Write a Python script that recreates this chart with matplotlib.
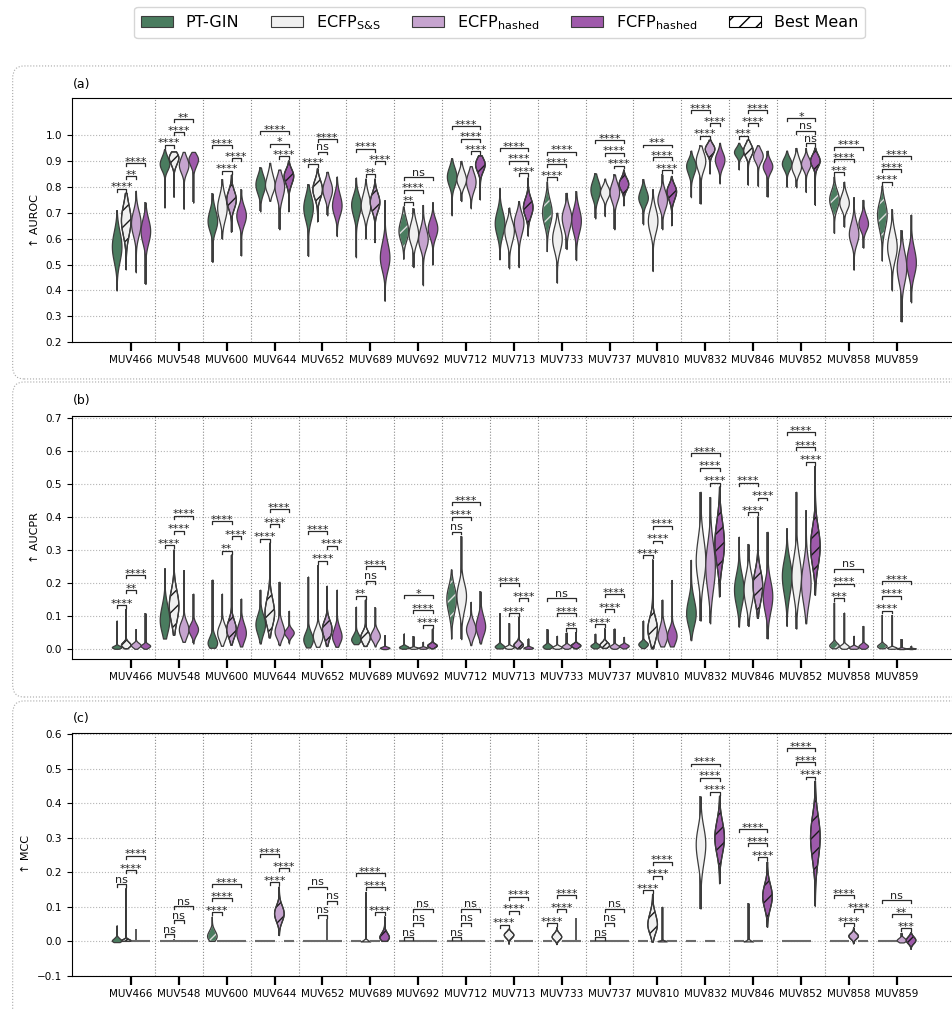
import numpy as np
import matplotlib
matplotlib.use("Agg")
import matplotlib.pyplot as plt
from matplotlib import cbook, mlab
from matplotlib.patches import Patch, PathPatch, FancyBboxPatch

# targets and models
targets = ["MUV466", "MUV548", "MUV600", "MUV644", "MUV652", "MUV689", "MUV692",
           "MUV712", "MUV713", "MUV733", "MUV737", "MUV810", "MUV832", "MUV846",
           "MUV852", "MUV858", "MUV859"]
models = ["PT-GIN", r"ECFP$_{\mathrm{S&S}}$", r"ECFP$_{\mathrm{hashed}}$", r"FCFP$_{\mathrm{hashed}}$"]
colors = ["#4a7c5f", "#f0f0f0", "#c6a4cf", "#9f5aab"]

# per violin: (min, q1, median, q3, max)
auroc_ptgin = [(0.40, 0.52, 0.57, 0.62, 0.71), (0.72, 0.87, 0.89, 0.915, 0.945), (0.51, 0.64, 0.67, 0.71, 0.775),
               (0.705, 0.78, 0.81, 0.84, 0.875), (0.533, 0.68, 0.72, 0.76, 0.81), (0.528, 0.69, 0.73, 0.76, 0.836),
               (0.52, 0.60, 0.63, 0.67, 0.723), (0.69, 0.81, 0.84, 0.87, 0.91), (0.52, 0.62, 0.66, 0.70, 0.795),
               (0.55, 0.66, 0.70, 0.74, 0.82), (0.678, 0.76, 0.79, 0.82, 0.852), (0.655, 0.74, 0.76, 0.79, 0.83),
               (0.76, 0.85, 0.88, 0.90, 0.94), (0.867, 0.92, 0.935, 0.95, 0.97), (0.80, 0.87, 0.89, 0.91, 0.94),
               (0.62, 0.72, 0.75, 0.78, 0.84), (0.513, 0.64, 0.69, 0.73, 0.803)]
auroc_ecfp_ss = [(0.48, 0.62, 0.67, 0.72, 0.775), (0.76, 0.885, 0.91, 0.925, 0.935), (0.60, 0.68, 0.72, 0.76, 0.83),
                 (0.746, 0.79, 0.81, 0.85, 0.893), (0.665, 0.76, 0.79, 0.82, 0.87), (0.60, 0.70, 0.73, 0.77, 0.832),
                 (0.49, 0.59, 0.62, 0.66, 0.717), (0.745, 0.81, 0.83, 0.86, 0.90), (0.485, 0.59, 0.63, 0.66, 0.72),
                 (0.43, 0.56, 0.60, 0.64, 0.70), (0.687, 0.76, 0.78, 0.80, 0.832), (0.475, 0.63, 0.67, 0.71, 0.79),
                 (0.735, 0.87, 0.90, 0.93, 0.96), (0.807, 0.92, 0.94, 0.96, 0.98), (0.798, 0.86, 0.88, 0.91, 0.95),
                 (0.646, 0.72, 0.74, 0.77, 0.82), (0.40, 0.53, 0.57, 0.62, 0.713)]
auroc_ecfp_hashed = [(0.47, 0.62, 0.66, 0.70, 0.785), (0.715, 0.86, 0.885, 0.91, 0.935), (0.625, 0.72, 0.75, 0.78, 0.845),
                     (0.636, 0.76, 0.80, 0.83, 0.867), (0.69, 0.76, 0.79, 0.82, 0.858), (0.585, 0.71, 0.74, 0.77, 0.83),
                     (0.42, 0.57, 0.60, 0.64, 0.73), (0.717, 0.79, 0.82, 0.85, 0.88), (0.49, 0.62, 0.66, 0.69, 0.745),
                     (0.56, 0.64, 0.68, 0.71, 0.777), (0.636, 0.75, 0.78, 0.81, 0.848), (0.636, 0.72, 0.75, 0.78, 0.848),
                     (0.85, 0.925, 0.945, 0.96, 0.98), (0.803, 0.90, 0.92, 0.94, 0.96), (0.78, 0.87, 0.89, 0.91, 0.95),
                     (0.48, 0.59, 0.62, 0.66, 0.76), (0.28, 0.44, 0.49, 0.54, 0.633)]
auroc_fcfp_hashed = [(0.425, 0.59, 0.63, 0.67, 0.74), (0.74, 0.88, 0.905, 0.92, 0.935), (0.535, 0.66, 0.69, 0.72, 0.79),
                     (0.704, 0.81, 0.84, 0.86, 0.90), (0.61, 0.70, 0.73, 0.77, 0.84), (0.36, 0.49, 0.53, 0.58, 0.749),
                     (0.50, 0.61, 0.64, 0.67, 0.74), (0.75, 0.86, 0.885, 0.905, 0.92), (0.61, 0.69, 0.72, 0.75, 0.835),
                     (0.517, 0.63, 0.67, 0.71, 0.783), (0.727, 0.79, 0.81, 0.83, 0.865), (0.65, 0.75, 0.78, 0.80, 0.84),
                     (0.813, 0.88, 0.905, 0.93, 0.97), (0.762, 0.86, 0.88, 0.90, 0.94), (0.73, 0.88, 0.90, 0.92, 0.95),
                     (0.565, 0.64, 0.66, 0.69, 0.75), (0.354, 0.47, 0.51, 0.56, 0.693)]

aucpr_ptgin = [(0.001, 0.003, 0.006, 0.010, 0.086), (0.032, 0.06, 0.09, 0.13, 0.244), (0.004, 0.01, 0.02, 0.04, 0.21),
               (0.017, 0.05, 0.075, 0.10, 0.18), (0.005, 0.015, 0.03, 0.05, 0.219), (0.015, 0.022, 0.03, 0.045, 0.128),
               (0.001, 0.003, 0.006, 0.010, 0.047), (0.03, 0.11, 0.15, 0.18, 0.24), (0.002, 0.004, 0.008, 0.014, 0.108),
               (0.001, 0.004, 0.008, 0.014, 0.06), (0.002, 0.005, 0.010, 0.015, 0.047), (0.003, 0.008, 0.015, 0.022, 0.086),
               (0.027, 0.08, 0.11, 0.15, 0.27), (0.068, 0.14, 0.18, 0.22, 0.34), (0.07, 0.17, 0.22, 0.26, 0.365),
               (0.001, 0.005, 0.010, 0.018, 0.14), (0.001, 0.004, 0.008, 0.014, 0.103)]
aucpr_ecfp_ss = [(0.001, 0.006, 0.012, 0.02, 0.12), (0.042, 0.09, 0.13, 0.17, 0.30), (0.01, 0.03, 0.05, 0.07, 0.168),
                 (0.034, 0.08, 0.11, 0.15, 0.32), (0.007, 0.02, 0.04, 0.06, 0.254), (0.008, 0.02, 0.035, 0.05, 0.148),
                 (0.001, 0.002, 0.004, 0.006, 0.039), (0.03, 0.12, 0.16, 0.19, 0.342), (0.001, 0.003, 0.006, 0.010, 0.078),
                 (0.001, 0.003, 0.006, 0.010, 0.04), (0.002, 0.006, 0.012, 0.02, 0.062), (0.001, 0.03, 0.06, 0.09, 0.27),
                 (0.086, 0.22, 0.27, 0.33, 0.476), (0.07, 0.14, 0.18, 0.22, 0.318), (0.062, 0.17, 0.22, 0.27, 0.476),
                 (0.001, 0.004, 0.008, 0.014, 0.11), (0.001, 0.002, 0.004, 0.007, 0.103)]
aucpr_ecfp_hashed = [(0.001, 0.006, 0.012, 0.018, 0.06), (0.022, 0.04, 0.06, 0.08, 0.239), (0.012, 0.04, 0.06, 0.085, 0.284),
                     (0.012, 0.04, 0.055, 0.08, 0.204), (0.008, 0.035, 0.06, 0.08, 0.19), (0.008, 0.028, 0.04, 0.055, 0.126),
                     (0.001, 0.002, 0.004, 0.006, 0.022), (0.012, 0.04, 0.06, 0.08, 0.143), (0.001, 0.006, 0.012, 0.02, 0.096),
                     (0.001, 0.004, 0.008, 0.013, 0.05), (0.001, 0.004, 0.008, 0.013, 0.062), (0.008, 0.025, 0.04, 0.07, 0.15),
                     (0.078, 0.19, 0.25, 0.31, 0.46), (0.093, 0.15, 0.19, 0.23, 0.40), (0.078, 0.15, 0.20, 0.25, 0.42),
                     (0.001, 0.002, 0.005, 0.009, 0.04), (0.0, 0.001, 0.002, 0.004, 0.03)]
aucpr_fcfp_hashed = [(0.001, 0.005, 0.01, 0.015, 0.108), (0.017, 0.045, 0.06, 0.075, 0.168), (0.008, 0.03, 0.05, 0.075, 0.153),
                     (0.017, 0.04, 0.05, 0.06, 0.116), (0.007, 0.025, 0.04, 0.065, 0.18), (0.0, 0.002, 0.004, 0.007, 0.042),
                     (0.001, 0.005, 0.010, 0.015, 0.06), (0.017, 0.05, 0.07, 0.10, 0.175), (0.001, 0.002, 0.004, 0.007, 0.032),
                     (0.001, 0.005, 0.010, 0.015, 0.05), (0.002, 0.005, 0.010, 0.014, 0.037), (0.008, 0.02, 0.04, 0.06, 0.209),
                     (0.158, 0.27, 0.32, 0.38, 0.49), (0.032, 0.12, 0.16, 0.20, 0.355), (0.163, 0.26, 0.31, 0.36, 0.553),
                     (0.001, 0.004, 0.009, 0.015, 0.07), (0.0, 0.001, 0.002, 0.003, 0.01)]

Z = (0.0, 0.0, 0.0, 0.0, 0.0)
mcc_ptgin = [(-0.002, 0.0, 0.003, 0.01, 0.046), Z, (0.0, 0.005, 0.015, 0.03, 0.071), Z, Z, Z, Z, Z, Z, Z, Z, Z,
             Z, Z, Z, Z, Z]
mcc_ecfp_ss = [(0.0, 0.0, 0.002, 0.006, 0.153), (0.0, 0.0, 0.0, 0.0, 0.008), Z, Z, Z, (0.0, 0.0, 0.0, 0.005, 0.143),
               Z, Z, (-0.008, 0.01, 0.018, 0.025, 0.035), (-0.009, 0.006, 0.013, 0.022, 0.04), Z,
               (-0.002, 0.03, 0.05, 0.08, 0.136), (0.095, 0.23, 0.28, 0.32, 0.42), (0.0, 0.0, 0.0, 0.004, 0.11),
               Z, Z, Z]
mcc_ecfp_hashed = [(0.0, 0.0, 0.0, 0.0, 0.035), Z, Z, (0.017, 0.06, 0.08, 0.10, 0.158), (0.0, 0.0, 0.0, 0.0, 0.064),
                   Z, Z, Z, Z, Z, Z, (0.0, 0.0, 0.001, 0.003, 0.10), Z, Z, Z,
                   (-0.007, 0.008, 0.015, 0.022, 0.04), (-0.003, 0.0, 0.004, 0.01, 0.025)]
mcc_fcfp_hashed = [Z, Z, Z, Z, Z, (0.0, 0.005, 0.012, 0.025, 0.071), Z, Z, Z, (0.0, 0.0, 0.0, 0.0, 0.068), Z, Z,
                   (0.167, 0.26, 0.30, 0.34, 0.42), (0.041, 0.10, 0.13, 0.16, 0.23), (0.102, 0.24, 0.30, 0.35, 0.464),
                   Z, (-0.023, -0.005, 0.003, 0.012, 0.025)]

# index of the model with the best mean (hatched), per target
auroc_best = [1, 1, 2, 3, 1, 2, 0, 3, 3, 0, 3, 3, 2, 1, 3, 0, 0]
aucpr_best = [1, 1, 2, 1, 2, 1, 3, 0, 2, 3, 1, 1, 3, 2, 3, 0, 0]
mcc_best = [1, 1, 0, 2, 2, 3, 1, 1, 1, 1, 1, 1, 3, 3, 3, 2, 3]

# significance labels: best vs the others, nearest first (left before right)
auroc_stars = [["****", "**", "****"], ["****", "****", "**"], ["****", "****", "****"], ["****", "*", "****"],
               ["****", "ns", "****"], ["**", "****", "****"], ["**", "****", "ns"], ["****", "****", "****"],
               ["****", "****", "****"], ["****", "****", "****"], ["****", "****", "****"], ["****", "****", "***"],
               ["****", "****", "****"], ["***", "****", "****"], ["ns", "ns", "*"], ["***", "****", "****"],
               ["****", "****", "****"]]
aucpr_stars = [["****", "**", "****"], ["****", "****", "****"], ["**", "****", "****"], ["****", "****", "****"],
               ["****", "****", "****"], ["**", "ns", "****"], ["****", "****", "*"], ["ns", "****", "****"],
               ["****", "****", "****"], ["**", "****", "ns"], ["****", "****", "****"], ["****", "****", "****"],
               ["****", "****", "****"], ["****", "****", "****"], ["****", "****", "****"], ["***", "****", "ns"],
               ["****", "****", "****"]]
mcc_stars = [["ns", "****", "****"], ["ns", "ns", "ns"], ["****", "****", "****"], ["****", "****", "****"],
             ["ns", "ns", "ns"], ["****", "****", "****"], ["ns", "ns", "ns"], ["ns", "ns", "ns"],
             ["****", "****", "****"], ["****", "****", "****"], ["ns", "ns", "ns"], ["****", "****", "****"],
             ["****", "****", "****"], ["****", "****", "****"], ["****", "****", "****"], ["****", "****", "****"],
             ["***", "**", "ns"]]

offsets = [-0.3, -0.1, 0.1, 0.3]
EDGE = "#3c3c3c"


def body_kde(x, coords):
    # density of the body only (quartiles + median); min/max become thin tails
    body = np.sort(x)[1:-1]
    iqr = body[-1] - body[0]
    kde = mlab.GaussianKDE(body, bw_method=lambda k: 0.42 * iqr / body.std(ddof=1))
    return kde.evaluate(coords)


def draw_panel(ax, series, best, stars, ylim, yticks, ylabel, step):
    rng = ylim[1] - ylim[0]
    for m, data in enumerate(series):
        for i, (lo, q1, med, q3, hi) in enumerate(data):
            pos = i + offsets[m]
            if hi - lo > 1e-9:
                ax.vlines(pos, lo, hi, color=EDGE, lw=1.2, zorder=2.9)
            if q3 - q1 < 1e-9:
                ax.hlines(med, pos - 0.1, pos + 0.1, color="#6b6b6b", lw=1.5, zorder=3)
                continue
            stats = cbook.violin_stats([[lo, q1, med, med, q3, hi]], body_kde, points=240)
            vp = ax.violin(stats, positions=[pos], widths=0.2, showextrema=False)
            body = vp["bodies"][0]
            body.set_facecolor(colors[m])
            body.set_alpha(1)
            body.set_edgecolor(EDGE)
            body.set_linewidth(0.9)
            body.set_zorder(3)
            if best[i] == m:
                body.set_hatch("//")
                body.set_edgecolor("#dcdcdc" if m == 0 else "#1a1a1a")
                ax.add_patch(PathPatch(body.get_paths()[0], fill=False, ec=EDGE, lw=0.9, zorder=3.1))

    # significance brackets, stacked like statannotations
    pad, tick = 0.0185 * rng, 0.012 * rng
    for i in range(len(targets)):
        b = best[i]
        others = sorted([j for j in range(4) if j != b], key=lambda j: (abs(j - b), j))
        placed = []
        for j, lab in zip(others, stars[i]):
            l, r = min(j, b), max(j, b)
            base = max(series[k][i][4] for k in range(l, r + 1))
            for pl, pr, top in placed:
                if pl <= r and l <= pr:
                    base = max(base, top)
            line = base + pad
            x1, x2 = i + offsets[l], i + offsets[r]
            ax.plot([x1, x1, x2, x2], [line - tick, line, line, line - tick], color="#2a2a2a", lw=0.9, zorder=4)
            ax.annotate(lab, ((x1 + x2) / 2, line), xytext=(0, -1.2 if "*" in lab else 1.0),
                        textcoords="offset points", ha="center", va="baseline", fontsize=8, color="#222222")
            placed.append((l, r, line + step * rng - pad))

    ax.set_xlim(-1.24, 17.24)
    ax.set_ylim(*ylim)
    ax.set_yticks(yticks)
    ax.set_xticks(range(len(targets)))
    ax.set_xticklabels(targets, fontsize=7.5)
    ax.tick_params(axis="x", length=6.5, width=1.6, pad=3)
    ax.tick_params(axis="y", labelsize=7.5, length=3.5, width=0.8)
    ax.yaxis.grid(True, ls=":", color="#b5b5b5", lw=0.8)
    ax.set_axisbelow(True)
    for x in np.arange(0.5, len(targets) - 1, 1):
        ax.axvline(x, ls=":", color="#8a8a8a", lw=0.8, zorder=0.5)
    ax.spines["right"].set_visible(False)
    ax.set_ylabel(ylabel, fontsize=8)


fig = plt.figure(figsize=(9.53, 10.10), dpi=100)

ax_a = fig.add_axes([0.0752, 0.6611, 0.928, 0.2416])
ax_b = fig.add_axes([0.0752, 0.3475, 0.928, 0.2406])
ax_c = fig.add_axes([0.0752, 0.0337, 0.928, 0.2409])

draw_panel(ax_a, [auroc_ptgin, auroc_ecfp_ss, auroc_ecfp_hashed, auroc_fcfp_hashed], auroc_best, auroc_stars,
           (0.2, 1.142), np.arange(0.2, 1.01, 0.1), "↑ AUROC", 0.052)
draw_panel(ax_b, [aucpr_ptgin, aucpr_ecfp_ss, aucpr_ecfp_hashed, aucpr_fcfp_hashed], aucpr_best, aucpr_stars,
           (-0.03, 0.705), np.arange(0.0, 0.71, 0.1), "↑ AUCPR", 0.061)
draw_panel(ax_c, [mcc_ptgin, mcc_ecfp_ss, mcc_ecfp_hashed, mcc_fcfp_hashed], mcc_best, mcc_stars,
           (-0.1, 0.604), np.arange(-0.1, 0.61, 0.1), "↑ MCC", 0.058)

# panel labels and dotted rounded frames
for y, lab in [(0.9168, "(a)"), (0.6033, "(b)"), (0.2891, "(c)")]:
    fig.text(0.0766, y, lab, fontsize=9, va="center", ha="left")
for y0, h in [(0.6248, 0.3099), (0.3099, 0.3119), (-0.03, 0.336)]:
    fig.add_artist(FancyBboxPatch((0.0133, y0), 1.05, h, boxstyle="round,pad=0,rounding_size=0.012",
                                  transform=fig.transFigure, fill=False, ls=":", ec="#a8a8a8", lw=0.8))

handles = [Patch(facecolor=c, edgecolor=EDGE, lw=0.8) for c in colors]
handles.append(Patch(facecolor="white", edgecolor="black", hatch="//", lw=0.8))
fig.legend(handles, models + ["Best Mean"], loc="upper center", bbox_to_anchor=(0.5241, 0.9931),
           ncol=5, fontsize=11.5, frameon=True, borderaxespad=0, edgecolor="#cccccc")

fig.savefig("out.png", dpi=100)
